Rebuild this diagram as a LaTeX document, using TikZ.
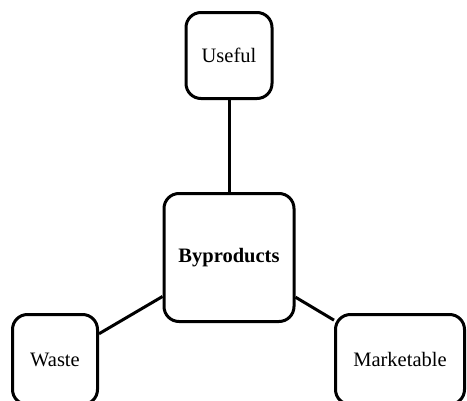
\documentclass[tikz,border=0pt]{standalone}
\usepackage{fontspec}
\setmainfont{Liberation Serif}
\begin{document}
\begin{tikzpicture}[x=1pt,y=-1pt,
  card/.style={draw=black, line width=3pt, rounded corners=15pt, fill=white,
    inner sep=0pt, align=center, font=\fontsize{20.5}{24}\selectfont},
  link/.style={draw=black, line width=3pt}]
  \useasboundingbox (0,0) rectangle (467,400);
  \node[card, minimum width=130pt, minimum height=128pt] (c) at (229,257.5) {\textbf{Byproducts}};
  \node[card, minimum width=86pt, minimum height=86pt] (u) at (229,55.5) {Useful};
  \node[card, minimum width=85pt, minimum height=90pt] (w) at (55,359.5) {Waste};
  \node[card, minimum width=129pt, minimum height=90pt] (m) at (400,359.5) {Marketable};
  \draw[link] (c) -- (u);
  \draw[link] (c) -- (w);
  \draw[link] (c) -- (m);
\end{tikzpicture}
\end{document}
